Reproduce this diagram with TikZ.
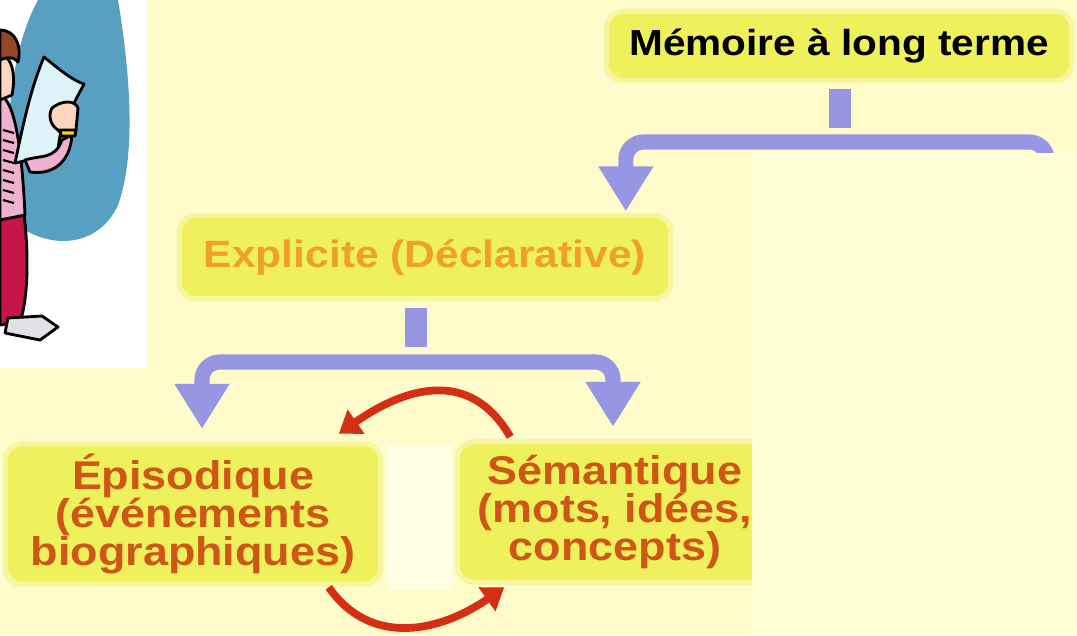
\documentclass[tikz,border=0pt]{standalone}
\usepackage{fontspec}
\setmainfont{Liberation Sans}[FakeStretch=1.12]
\usetikzlibrary{arrows.meta}

\definecolor{pagebg}{RGB}{255,251,202}
\definecolor{coverbg}{RGB}{255,255,215}
\definecolor{gapbg}{RGB}{255,255,230}
\definecolor{boxfill}{RGB}{238,240,92}
\definecolor{boxhalo}{RGB}{246,246,160}
\definecolor{arrowblue}{RGB}{150,150,226}
\definecolor{linkred}{RGB}{212,46,20}
\definecolor{explorange}{RGB}{240,160,40}
\definecolor{subbrown}{RGB}{206,86,22}
% clipart colours
\definecolor{skyblue}{RGB}{88,160,194}
\definecolor{paperblue}{RGB}{222,242,250}
\definecolor{skin}{RGB}{250,214,190}
\definecolor{shirtpink}{RGB}{240,176,208}
\definecolor{trouser}{RGB}{196,20,72}
\definecolor{hair}{RGB}{150,70,40}
\definecolor{shoegrey}{RGB}{225,225,232}

% three-line labels set closer than the font would
\newcommand{\tightlines}{\lineskiplimit=-20pt\relax}

\tikzset{
  memb/.style={rounded corners=4pt, fill=boxfill, inner sep=0pt,
    preaction={draw=boxhalo, line width=3pt},
    font=\bfseries\fontsize{10.3}{12}\selectfont},
  sub/.style={text=subbrown, align=center,
    font=\bfseries\fontsize{11.4}{10.7}\selectfont\tightlines},
  stub/.style={arrowblue, line width=6.3pt},
  branch/.style={arrowblue, line width=4.3pt, rounded corners=5pt,
    -{Triangle[length=12.8pt,width=14.8pt]}},
  loop/.style={linkred, line width=2.2pt,
    -{Triangle[length=6pt,width=8pt]}},
  outline/.style={draw=black, line width=0.8pt, line join=round}
}

\begin{document}
\begin{tikzpicture}[x=0.01cm,y=0.01cm]
%\draw[step=100,red,very thin] (0,0) grid (1077,-635);

\fill[pagebg] (0,0) rectangle (1077,-635);
\useasboundingbox (0,0) rectangle (1077,-635);

% clipart, top left corner
\fill[white] (0,0) rectangle (147,-368);
\fill[skyblue] (38,0) -- (118,0) .. controls (128,-60) and (138,-150) .. (118,-205)
  .. controls (100,-245) and (55,-250) .. (22,-228)
  .. controls (0,-170) and (5,-60) .. (38,0) -- cycle;
\filldraw[fill=trouser, outline] (0,-205) -- (22,-200) .. controls (30,-250) and (28,-300) .. (20,-322) -- (0,-325) -- cycle;
\filldraw[fill=shirtpink, outline] (0,-95) .. controls (15,-100) and (22,-150) .. (25,-215) -- (0,-220) -- cycle;
\foreach \y in {-130,-140,...,-200}
  \draw[line width=0.6pt] (3,\y) -- (14,\y-3);
\filldraw[fill=skin, outline] (0,-55) .. controls (12,-55) and (16,-75) .. (12,-95) -- (0,-100) -- cycle;
\filldraw[fill=hair, outline] (0,-30) .. controls (15,-30) and (22,-45) .. (18,-62) .. controls (12,-55) and (5,-58) .. (0,-60) -- cycle;
\filldraw[fill=paperblue, outline] (44,-57) .. controls (60,-70) and (72,-80) .. (84,-84) -- (74,-103)
  .. controls (62,-120) and (58,-140) .. (58,-155)
  .. controls (45,-155) and (30,-160) .. (15,-163)
  .. controls (22,-130) and (30,-90) .. (44,-57) -- cycle;
\filldraw[fill=shirtpink, outline] (25,-160) .. controls (40,-155) and (55,-160) .. (62,-140) -- (72,-135)
  .. controls (70,-165) and (50,-175) .. (30,-172) -- cycle;
\filldraw[fill=skin, outline] (52,-108) .. controls (62,-100) and (75,-100) .. (78,-108) -- (76,-130)
  .. controls (70,-136) and (62,-136) .. (58,-130) .. controls (50,-125) and (48,-115) .. (52,-108) -- cycle;
\filldraw[fill=yellow!70!orange, outline] (60,-130) -- (76,-130) -- (75,-136) -- (61,-136) -- cycle;
\filldraw[fill=shoegrey, outline] (8,-318) -- (42,-316) -- (58,-327) -- (40,-340) -- (5,-333) -- cycle;

% pale gap between the two lower boxes
\fill[gapbg] (388,-445) rectangle (452,-590);

% boxes
\node[memb, minimum width=4.6cm, minimum height=0.64cm] (ltm) at (839,-46) {Mémoire à long terme};
\node[memb, text=explorange, font=\bfseries\fontsize{10.8}{12}\selectfont,
  minimum width=4.86cm, minimum height=0.78cm] (expl) at (425,-257) {Explicite (Déclarative)};
\node[memb, sub, minimum width=3.7cm, minimum height=1.35cm] (epi) at (193,-514) {Épisodique\\(événements\\biographiques)};
\node[memb, sub, minimum width=3.1cm, minimum height=1.35cm] (sem) at (615,-512) {Sémantique\\(mots, idées,\\concepts)};

\coordinate (fork1) at (840,-142);
\coordinate (fork2) at (416,-362);
\coordinate (implicit) at (1047,-200);

% blue split arrows
\draw[stub] ([yshift=-0.1cm]fork1 |- ltm.south) -- ([yshift=0.14cm]fork1);
\draw[branch] (fork1) -| ([xshift=-0.43cm,yshift=0.06cm]expl.north east);
\draw[branch,-] (fork1) -| (implicit);

\draw[stub] ([yshift=-0.11cm]fork2 |- expl.south) -- ([yshift=0.15cm]fork2);
\draw[branch] (fork2) -| ([xshift=0.09cm,yshift=0.17cm]epi.north);
\draw[branch] (fork2) -| ([xshift=-0.02cm,yshift=0.17cm]sem.north);

% red loop between the two kinds
\draw[loop] ([shift={(0.51cm,0.07cm)}]sem.north west) to[out=120,in=35,looseness=1.2] ([shift={(-0.4cm,0.12cm)}]epi.north east);
\draw[loop] ([shift={(-0.5cm,-0.05cm)}]epi.south east) to[out=-55,in=-145,looseness=1.1] ([shift={(0.45cm,-0.07cm)}]sem.south west);

% pale panel over the right side
\fill[coverbg] (752,-153) rectangle (1077,-635);
\end{tikzpicture}
\end{document}
